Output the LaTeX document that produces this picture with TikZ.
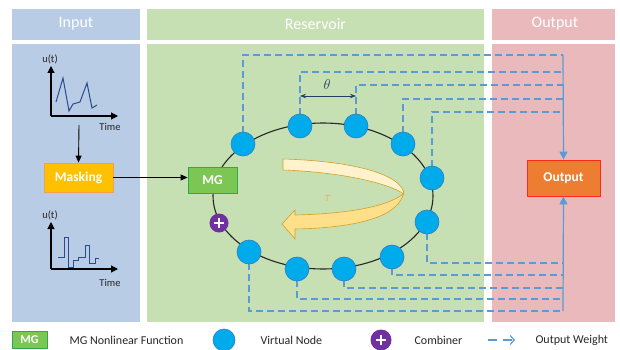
\documentclass[tikz,border=0pt]{standalone}
\usepackage{fontspec}
\setmainfont{Carlito}
\usetikzlibrary{arrows.meta,positioning}

\definecolor{inbg}{HTML}{B8CCE6}
\definecolor{resbg}{HTML}{C6E0B4}
\definecolor{outbg}{HTML}{E9B9BC}
\definecolor{maskfill}{HTML}{FFC000}
\definecolor{maskline}{HTML}{F0A050}
\definecolor{mgfill}{HTML}{7CC653}
\definecolor{mgline}{HTML}{2BAA4A}
\definecolor{vnfill}{HTML}{00ABEC}
\definecolor{vnline}{HTML}{2E7BC4}
\definecolor{combfill}{HTML}{7030A0}
\definecolor{wcol}{HTML}{5B9BD5}
\definecolor{outfill}{HTML}{ED7D31}
\definecolor{outline}{HTML}{FF2A1A}
\definecolor{curvecol}{HTML}{2F4A8A}
\definecolor{thetacol}{HTML}{253E63}
\definecolor{tauup}{HTML}{FFF2CC}
\definecolor{taulow}{HTML}{FFDF8A}
\definecolor{tauline}{HTML}{CFA12A}
\definecolor{tautext}{HTML}{F2B400}

\tikzset{
  header/.style={text=white,font=\fontsize{16}{19}\selectfont},
  procbox/.style={draw,line width=0.8pt,text=white,inner sep=0pt,
    font=\fontsize{13.5}{16}\selectfont\bfseries},
  vnode/.style={circle,fill=vnfill,draw=vnline,line width=0.6pt,
    minimum size=24pt,inner sep=0pt},
  combiner/.style={circle,fill=combfill,minimum size=19pt,inner sep=0pt,
    path picture={
      \draw[white,line width=2.6pt]
        ([xshift=-5pt]path picture bounding box.center) --
        ([xshift=5pt]path picture bounding box.center);
      \draw[white,line width=2.6pt]
        ([yshift=-5pt]path picture bounding box.center) --
        ([yshift=5pt]path picture bounding box.center);}},
  small/.style={font=\fontsize{10.5}{12}\selectfont,text=black!85},
  legend/.style={font=\fontsize{12}{14}\selectfont,text=black!85,anchor=west},
  axis/.style={black,line width=1.1pt,-{Triangle[length=7pt,width=7pt]}},
  flow/.style={black,line width=0.9pt,-{Triangle[length=7pt,width=6pt]}},
  wdash/.style={wcol,line width=1.2pt,dash pattern=on 7pt off 4pt},
  wline/.style={wcol,line width=1.2pt,-{Triangle[length=8pt,width=8pt]}},
}

\begin{document}
\begin{tikzpicture}[x=1pt,y=-1pt]
  \useasboundingbox (0,0) rectangle (620,350);

  % panels
  \fill[inbg] (12,9) rectangle (140,40);
  \fill[inbg] (12,44) rectangle (140,322);
  \fill[resbg] (147,9) rectangle (484,40);
  \fill[resbg] (147,44) rectangle (484,322);
  \fill[outbg] (492,9) rectangle (615,40);
  \fill[outbg] (492,44) rectangle (615,322);
  \node[header] (hin) at (76,24) {Input};
  \node[header] (hres) at (315.5,24) {Reservoir};
  \node[header] (hout) at (555,24) {Output};

  % input signal
  \coordinate (oA) at (51,116);
  \draw[axis] (oA) -- (51,66);
  \draw[axis] (oA) -- (118,116);
  \node[small] (uA) at (50,59) {u(t)};
  \node[small] (tA) at (110,127) {Time};
  \draw[curvecol,line width=1pt] (56,102) -- (63,78) -- (69,111) -- (73,104)
    -- (80,102) -- (87,83) -- (92,108) -- (97,105);

  % masked signal
  \coordinate (oB) at (51,269);
  \draw[axis] (oB) -- (51,222);
  \draw[axis] (oB) -- (118,269);
  \node[small] (uB) at (50,215) {u(t)};
  \node[small] (tB) at (110,283) {Time};
  \draw[curvecol,line width=1pt] (58,257) -- (64,257) -- (64,237) -- (68,237)
    -- (68,267) -- (73,267) -- (73,260) -- (78,260) -- (78,257) -- (85,257)
    -- (85,245) -- (89,245) -- (89,263) -- (95,263) -- (95,258) -- (99,258);

  \node[procbox,fill=maskfill,draw=maskline,minimum width=69pt,minimum height=29pt]
    (mask) at (78.5,177.5) {Masking};
  \coordinate (sigA) at (79,125);
  \draw[flow] (sigA) -- (mask.north);

  % reservoir loop
  \draw[black!85,line width=1.1pt] (323,196) ellipse [x radius=110pt, y radius=73pt];

  \foreach \i/\x/\y in {1/243/144, 2/300/126, 3/356/126, 4/403/144, 5/432/178,
                        6/427/222, 7/392/257, 8/344/269, 9/297/269, 10/249/252}
    \coordinate (p\i) at (\x,\y);

  % output weights
  \foreach \i/\y in {1/55, 2/72, 3/85, 4/99, 5/112}
    {\coordinate (t\i) at (563,\y);
     \draw[wdash] (p\i) |- (t\i);}
  \foreach \i/\j/\y in {6/1/263, 7/2/275, 8/3/288, 9/4/299, 10/5/311}
    {\coordinate (b\j) at (563,\y);
     \draw[wdash] (p\i) |- (b\j);}

  \foreach \i in {1,...,10}
    \node[vnode] (v\i) at (p\i) {};

  \node[combiner] (comb) at (219,223) {};
  \node[procbox,fill=mgfill,draw=mgline,minimum width=49pt,minimum height=26pt]
    (mg) at (212.5,180) {MG};
  \draw[flow] (mask.east) -- (mask.east -| mg.west);

  % node spacing
  \coordinate (thL) at (300,96);
  \coordinate (thR) at (356,96);
  \draw[thetacol,line width=0.8pt,{Stealth[length=6pt]}-{Stealth[length=6pt]}] (thL) -- (thR);
  \node[text=thetacol,font=\fontsize{14}{16}\selectfont] (theta) at (327,85) {$\theta$};

  % delay
  \fill[taulow,draw=tauline,line width=0.6pt] (403,194) .. controls (386,208) and (340,214) .. (295,215)
    -- (295,210) -- (282,224) -- (295,239) -- (295,229)
    .. controls (352,228) and (402,218) .. (404,190) -- cycle;
  \fill[tauup,draw=tauline,line width=0.6pt] (283,159) .. controls (352,161) and (402,174) .. (404,194)
    .. controls (388,183) and (340,172) .. (283,170) -- cycle;
  \node[text=tautext,font=\fontsize{15}{17}\selectfont] (tau) at (328,198) {$\tau$};

  % output
  \node[procbox,fill=outfill,draw=outline,minimum width=73pt,minimum height=36pt]
    (out) at (563.5,178) {Output};
  \draw[wline] (t1) -- (out.north);
  \draw[wline] (b5) -- (out.south);

  % legend
  \node[procbox,fill=mgfill,draw=mgline,minimum width=35pt,minimum height=17pt,
    font=\fontsize{12}{14}\selectfont\bfseries] (lgmg) at (29.5,340) {MG};
  \node[legend] (lgmgt) at (66,340) {MG Nonlinear Function};
  \node[vnode,minimum size=22pt] (lgvn) at (224,340) {};
  \node[legend] (lgvnt) at (257,340) {Virtual Node};
  \node[combiner,minimum size=21pt] (lgcb) at (381,340) {};
  \node[legend] (lgcbt) at (411,340) {Combiner};
  \coordinate (lgw1) at (488,340);
  \coordinate (lgw2) at (515,340);
  \draw[wcol,line width=1.2pt,dash pattern=on 9pt off 6pt,
    -{Straight Barb[length=4pt,width=9pt]}] (lgw1) -- (lgw2);
  \node[legend] (lgwt) at (532,340) {Output Weight};
\end{tikzpicture}
\end{document}
